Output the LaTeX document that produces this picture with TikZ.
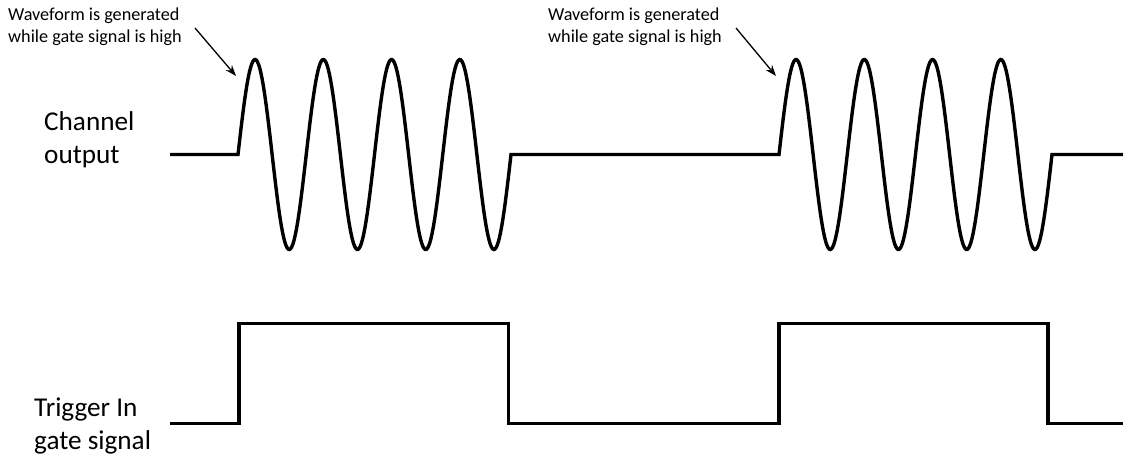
\documentclass[tikz,border=0pt]{standalone}
\usepackage{fontspec}
\setmainfont{Carlito}
\usetikzlibrary{arrows.meta}
\tikzset{
  sig/.style={line width=3.4pt, line join=miter, black},
  note/.style={anchor=base west, inner sep=0pt, align=left, font=\fontsize{18.2}{22}\selectfont},
  axlabel/.style={anchor=base west, inner sep=0pt, align=left, font=\fontsize{27.2}{32.6}\selectfont},
  pointer/.style={line width=1.3pt, -{Stealth[length=11pt,width=8pt]}}
}
\begin{document}
\begin{tikzpicture}[x=1pt,y=-1pt]
\useasboundingbox (0,0) rectangle (1123,459);
% labels (base anchor = baseline of last line)
\node[note] (lblA) at (8,42.7) {Waveform is generated\\while gate signal is high};
\node[note] (lblB) at (548,42.7) {Waveform is generated\\while gate signal is high};
\node[axlabel] (chan) at (44,163.3) {Channel\\output};
\node[axlabel] (trig) at (34,449.5) {Trigger In\\gate signal};
% arrow coordinates
\coordinate (fromA) at (195,28);
\coordinate (tipA) at (236,76);
\coordinate (fromB) at (736,28);
\coordinate (tipB) at (776,76);
\draw[pointer] (fromA) -- (tipA);
\draw[pointer] (fromB) -- (tipB);
% channel output
\draw[sig] (170,154.5) -- (238,154.5)
  -- plot[domain=0:273, samples=240] ({238+\x},{154.5-95*sin(\x*5.27473)})
  -- (779,154.5)
  -- plot[domain=0:273, samples=240] ({779+\x},{154.5-95*sin(\x*5.27473)})
  -- (1123,154.5);
% gate signal
\draw[sig] (170,423.5) -- (239,423.5) -- (239,323.3) -- (508.5,323.3) -- (508.5,423.5)
  -- (779,423.5) -- (779,323.3) -- (1048,323.3) -- (1048,423.5) -- (1123,423.5);
\end{tikzpicture}
\end{document}
